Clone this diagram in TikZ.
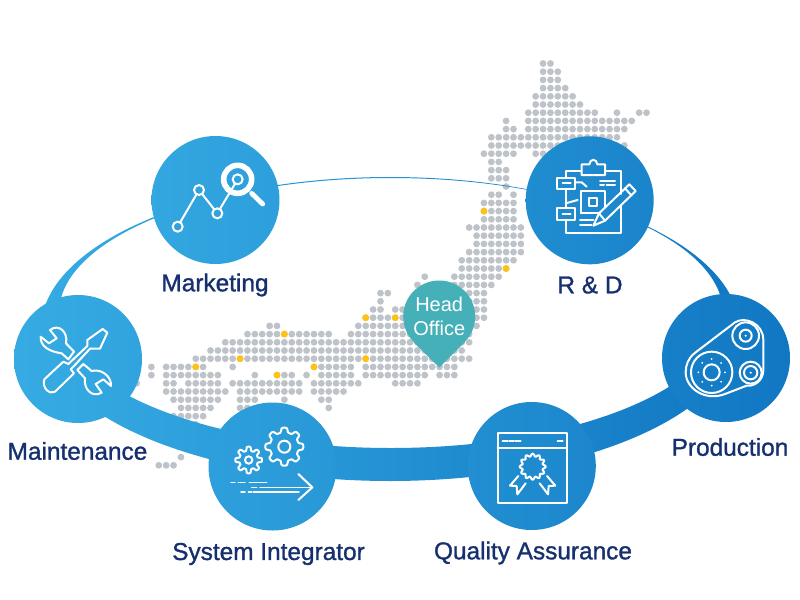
\documentclass[tikz,border=0pt]{standalone}
\usepackage{fontspec}
\setmainfont{Liberation Sans}
\newfontfamily\hublabelfont[FakeBold=1.2]{Liberation Sans}
\usepackage{xcolor}
\usetikzlibrary{calc}
\definecolor{ringlight}{RGB}{54,171,227}
\definecolor{ringdark}{RGB}{17,119,195}
\definecolor{mapgray}{RGB}{189,195,200}
\definecolor{mapyellow}{RGB}{255,194,14}
\definecolor{pinteal}{RGB}{69,176,184}
\definecolor{labelnavy}{RGB}{22,48,111}

\begin{document}
\begin{tikzpicture}[
    x=0.75pt, y=-0.75pt,
    hub/.style 2 args={circle, minimum size=96pt, inner sep=0pt,
        left color=ringdark!#1!ringlight, right color=ringdark!#2!ringlight},
    hublabel/.style={font=\hublabelfont\fontsize{18.3}{22}\selectfont, text=labelnavy, inner sep=0pt},
    headpin/.style={circle, fill=pinteal, minimum size=54pt, inner sep=0pt, text=white,
        align=center, font=\fontsize{15}{17.5}\selectfont},
    icon/.style={draw=white, line width=1.5pt, line join=round, line cap=round},
    thinicon/.style={draw=white, line width=1.1pt, line join=round, line cap=round},
    zoomed/.style={x=0.25pt, y=-0.25pt}
]
    \useasboundingbox (0,0) rectangle (800,600);
    % dot map, one row at a time
    \foreach \row/\cols in {0/{55,56}, 1/{55,56,57}, 2/{55,56,57}, 3/{55,...,58}, 4/{54,...,59},
        5/{54,...,60}, 6/{53,...,62,65,68,69}, 7/{50,53,54,...,67}, 8/{50,51,53,54,...,66},
        9/{48,...,65}, 10/{48,...,66}, 11/{47,...,51,54,55,...,60}, 12/{48,49}, 13/{48,49,50},
        14/{48,49,50}, 15/{50}, 16/{48,49,51}, 17/{47,...,51}, 18/{47,...,51}, 19/{47,...,51},
        20/{45,...,52}, 21/{46,...,52}, 22/{46,...,52}, 23/{45,...,52}, 24/{44,...,51},
        25/{44,...,50}, 26/{39,43,44,...,49}, 27/{38,43,44,...,48}, 28/{33,34,38,39,...,47},
        29/{33,38,39,...,47}, 30/{32,33,35,36,...,47}, 31/{31,...,47}, 32/{18,19,30,31,...,46},
        33/{15,...,26,29,30,...,45}, 34/{12,...,45}, 35/{10,...,44}, 36/{8,...,45},
        37/{2,4,5,...,9,13,24,25,...,29,31,32,...,43}, 38/{2,4,5,...,11,16,19,20,21,23,25,26,...,29,31,32,...,39,41,42,43},
        39/{0,4,5,7,8,...,11,13,14,...,22,24,25,...,30,35,36,37,38}, 40/{4,...,12,14,15,...,22,24,25,...,28},
        41/{5,...,11,14,15,16,20,25,26}, 42/{6,...,10,14,15,26}, 43/{5,...,9}, 44/{8}, 48/{6}, 49/{3,4,5}}
        \foreach \col in \cols
            \fill[mapgray] ({136.6+7.39*\col},{63.5+8.2*\row}) circle (3.4);
    \foreach \col/\row in {47/18, 50/25, 35/31, 31/31, 20/33, 14/36, 31/36, 8/37, 24/37, 19/38}
        \fill[mapyellow] ({136.6+7.39*\col},{63.5+8.2*\row}) circle (3.4);

    % ring
    \path[even odd rule, left color=ringlight, right color=ringdark]
        (390,329) ellipse [x radius=349, y radius=152]
        (391,313) ellipse [x radius=332, y radius=135];

    % head office pin
    \node[headpin] (head) at (439.2,316.5) {Head\\Office};
    \coordinate (headtip) at (439.3,367.5);
    \fill[pinteal] (head.225) -- (headtip) -- (head.315) -- cycle;

    % hubs
    \node[hub={8}{24}] (marketing) at (215.5,200) {};
    \node[hub={58}{74}] (rnd) at (589.7,200.3) {};
    \node[hub={0}{14}] (maintenance) at (78,359) {};
    \node[hub={83}{100}] (production) at (726,358) {};
    \node[hub={22}{38}] (integrator) at (272.5,466.5) {};
    \node[hub={54}{70}] (quality) at (531.8,466) {};

    \node[hublabel] (marketinglabel) at (215,285) {Marketing};
    \node[hublabel] (rndlabel) at (590,285) {R \& D};
    \node[hublabel] (maintenancelabel) at (77.5,451) {Maintenance};
    \node[hublabel] (productionlabel) at (730,447) {Production};
    \node[hublabel] (integratorlabel) at (268.5,554) {System Integrator};
    \node[hublabel] (qualitylabel) at (533,553) {Quality Assurance};

    % marketing icon
    \begin{scope}[shift={(140,130)}, zoomed]
        \draw[icon] (113,290) -- (177,180) -- (232,250) -- (293,148);
        \foreach \dotx/\doty in {113/290, 177/180, 232/250, 293/148}
            \draw[icon, fill=ringdark!16!ringlight] (\dotx,\doty) circle (15);
        \draw[draw=white, line width=4.2pt] (293,148) circle (42);
        \draw[draw=white, line width=3.6pt, line cap=round] (335,190) -- (368,222);
    \end{scope}

    % maintenance icon
    \begin{scope}[shift={(0,290)}, zoomed]
        \draw[icon] (308,117) -- (322,128) -- (300,176) -- (270,176) -- (222,228) -- (212,238)
            -- (222,250) -- (165,305) .. controls (150,315) and (125,295) .. (133,268)
            -- (190,215) -- (205,222) -- (262,168) -- (262,150) -- cycle;
        \draw[icon] (222,185) -- (205,208) -- (185,190) .. controls (150,185) and (120,170) .. (122,140)
            -- (147,160) -- (170,145) -- (150,120) .. controls (175,100) and (205,125) .. (198,160) -- cycle;
        \draw[icon] (232,240) -- (250,222) -- (275,243) .. controls (305,235) and (335,260) .. (333,288)
            -- (310,268) -- (287,282) -- (305,308) .. controls (275,325) and (250,295) .. (255,265) -- cycle;
    \end{scope}

    % system integrator icon
    \begin{scope}[shift={(200,400)}, zoomed]
        \draw[icon, shift={(253,140)}] plot[domain=0:360, samples=121, variable=\t, smooth]
            (\t:{50+7*tanh(2.5*cos(8*\t))}) -- cycle;
        \draw[icon] (253,140) circle (18);
        \draw[icon, shift={(146,180)}] plot[domain=0:360, samples=121, variable=\t, smooth]
            (\t:{34+6*tanh(2.5*cos(8*\t))}) -- cycle;
        \draw[icon] (146,180) circle (11);
        \draw[icon] (295,222) -- (337,262) -- (295,300);
        \draw[thinicon] (93,247) -- (105,247) (115,247) -- (135,247) (148,247) -- (200,247);
        \draw[thinicon] (155,262) -- (170,262) (180,262) -- (335,262);
        \draw[thinicon] (123,276) -- (135,276) (145,276) -- (155,276) (160,276) -- (297,276);
    \end{scope}

    % quality assurance icon
    \begin{scope}[shift={(465,400)}, zoomed]
        \draw[icon] (98,100) rectangle (307,308);
        \draw[icon] (98,143) -- (307,143);
        \draw[icon] (113,123) -- (128,123) (132,123) -- (147,123) (152,123) -- (167,123) (278,123) -- (293,123);
        \draw[icon, shift={(203,200)}] plot[domain=0:360, samples=145, variable=\t, smooth]
            (\t:{35+4*cos(12*\t)}) -- cycle;
        \draw[icon] (160,228) -- (135,257) -- (155,258) -- (157,283) -- (182,250);
        \draw[icon] (246,228) -- (271,257) -- (251,258) -- (249,283) -- (224,250);
    \end{scope}

    % r and d icon
    \begin{scope}[shift={(400,50)}, zoomed]
        \draw[icon] (545,362) -- (497,362) -- (497,383) (497,418) -- (497,475) (497,510) -- (497,548)
            -- (662,548) -- (662,465) (662,432) -- (662,362) -- (615,362);
        \draw[icon] (545,375) -- (545,343) -- (568,343) .. controls (570,325) and (590,325) .. (592,343)
            -- (615,343) -- (615,375) -- cycle;
        \draw[icon] (472,383) rectangle (525,418);
        \draw[icon] (472,475) rectangle (525,510);
        \draw[icon] (488,400) -- (512,400) (488,492) -- (512,492);
        \draw[icon] (543,490) -- (543,422) -- (615,422) -- (615,470) (543,490) -- (595,490);
        \draw[icon] (567,443) rectangle (592,468);
        \draw[icon] (525,397) -- (545,397) -- (560,410);
        \draw[icon] (497,460) -- (533,450);
        \draw[icon] (600,393) -- (645,393) (600,405) -- (612,405) (620,405) -- (645,405);
        \draw[icon] (540,510) -- (580,510) (540,525) -- (575,525);
        \draw[icon] (580,527) -- (597,490) -- (688,403) -- (707,423) -- (615,512) -- cycle;
        \draw[icon] (597,490) -- (615,512) (675,415) -- (695,437);
    \end{scope}

    % production icon
    \begin{scope}[shift={(655,290)}, zoomed]
        \draw[icon] (118,190) -- (240,97) .. controls (270,78) and (325,100) .. (325,150)
            -- (325,240) .. controls (325,270) and (300,290) .. (275,287) -- (210,312)
            .. controls (150,335) and (92,295) .. (92,247) .. controls (92,225) and (100,205) .. (118,190) -- cycle;
        \draw[icon] (170,247) circle (62) (170,247) circle (24);
        \foreach \t in {0,45,...,315}
            \fill[white] ($(170,247)+(\t:40)$) circle (3);
        \draw[icon] (272,137) circle (40) (272,137) circle (18);
        \fill[white] (272,137) circle (3.5);
        \draw[icon] (287,248) circle (33) (287,248) circle (20);
        \fill[white] (287,248) circle (3.5);
    \end{scope}
\end{tikzpicture}
\end{document}
